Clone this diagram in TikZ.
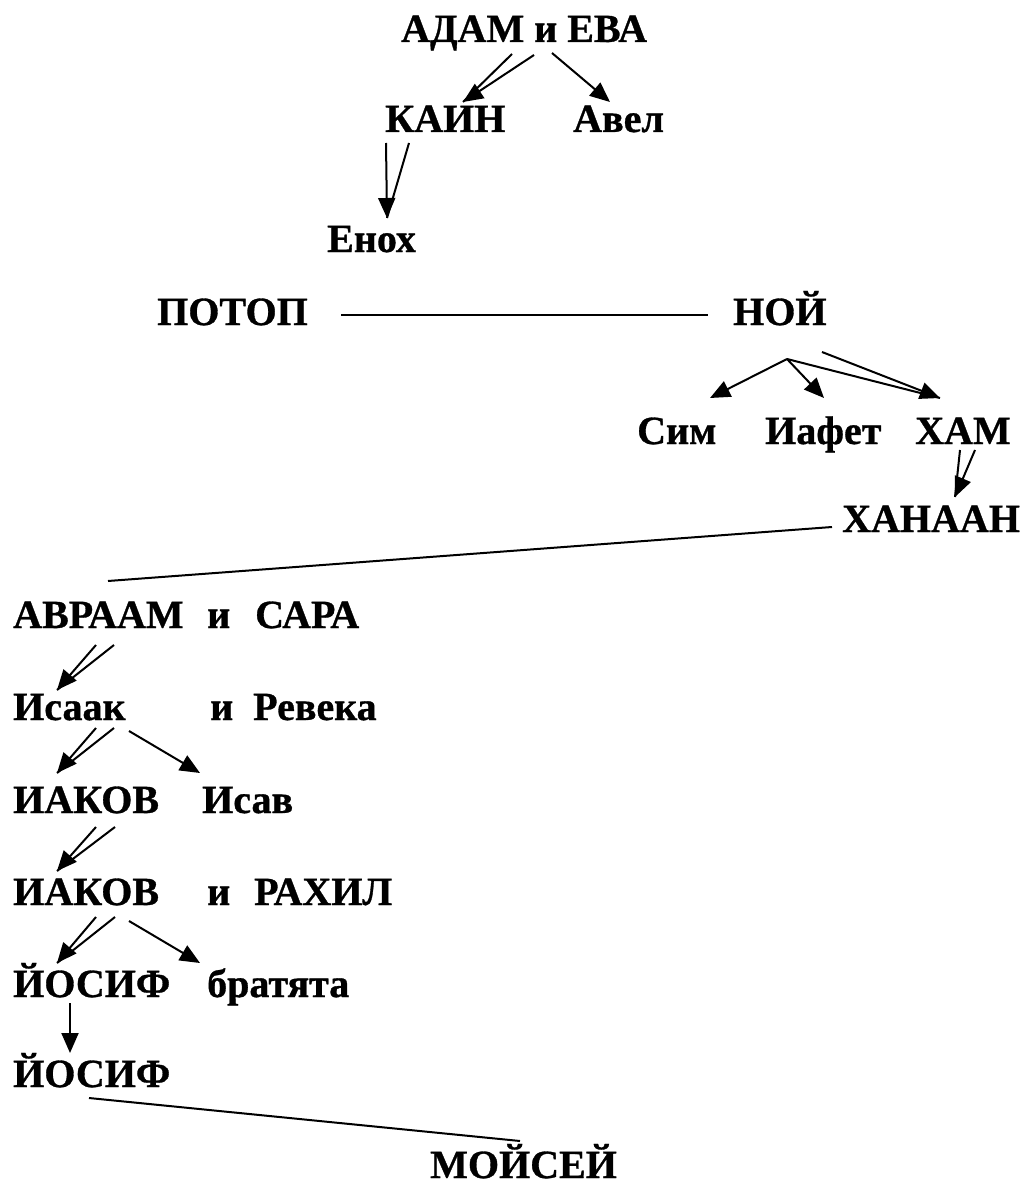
\documentclass[tikz,border=0pt]{standalone}
\usepackage{fontspec}
\setmainfont{Liberation Serif}[BoldFeatures={FakeBold=0.8}]
\usetikzlibrary{arrows.meta}
\begin{document}
\begin{tikzpicture}[x=1pt,y=-1pt,
  lbl/.style={inner sep=0pt,anchor=base west,font=\fontsize{40}{42}\selectfont\bfseries},
  conn/.style={line width=2pt},
  arr/.style={conn,-{Triangle[length=20pt,width=17pt]}}]
\useasboundingbox (0,0) rectangle (1035,1185);
% labels
\node[lbl] (adam) at (401,42) {АДАМ и ЕВА};
\node[lbl] (kain) at (385,132) {КАИН};
\node[lbl] (avel) at (573,132) {Авел};
\node[lbl] (enoh) at (327,252) {Енох};
\node[lbl] (potop) at (157,325) {ПОТОП};
\node[lbl] (noy) at (733,325) {НОЙ};
\node[lbl] (sim) at (637,444) {Сим};
\node[lbl] (iafet) at (765,444) {Иафет};
\node[lbl] (ham) at (915,444) {ХАМ};
\node[lbl] (hanaan) at (842,532) {ХАНААН};
\node[lbl] (avraam) at (13,628) {АВРААМ};
\node[lbl] (i1) at (207,628) {и};
\node[lbl] (sara) at (255,628) {САРА};
\node[lbl] (isaak) at (13,720) {Исаак};
\node[lbl] (i2) at (210,720) {и};
\node[lbl] (reveka) at (253,720) {Ревека};
\node[lbl] (iakov) at (13,813) {ИАКОВ};
\node[lbl] (isav) at (202,813) {Исав};
\node[lbl] (iakovb) at (13,905) {ИАКОВ};
\node[lbl] (i3) at (207,905) {и};
\node[lbl] (rahil) at (254,905) {РАХИЛ};
\node[lbl] (yosif) at (13,997) {ЙОСИФ};
\node[lbl] (bratyata) at (207,997) {братята};
\node[lbl] (yosifb) at (13,1087) {ЙОСИФ};
\node[lbl] (moysey) at (430,1178) {МОЙСЕЙ};
% connector end points
\coordinate (adamA) at (512,54);
\coordinate (adamB) at (534,55);
\coordinate (adamC) at (552,53);
\coordinate (kainT) at (463,102);
\coordinate (avelT) at (610,102);
\coordinate (kainA) at (386,143);
\coordinate (kainB) at (409,143);
\coordinate (enohT) at (387,218);
\coordinate (potopR) at (341,315);
\coordinate (noyL) at (708,315);
\coordinate (noyA) at (787,359);
\coordinate (noyB) at (822,352);
\coordinate (simT) at (710,398);
\coordinate (iafetT) at (824,398);
\coordinate (hamT) at (940,398);
\coordinate (hamA) at (960,450);
\coordinate (hamB) at (975,450);
\coordinate (hanaanT) at (955,497);
\coordinate (hanaanL) at (832,527);
\coordinate (avraamR) at (108,581);
\coordinate (avraamA) at (96,645);
\coordinate (avraamB) at (114,645);
\coordinate (isaakT) at (57,690);
\coordinate (isaakA) at (96,728);
\coordinate (isaakB) at (114,728);
\coordinate (isaakC) at (129,731);
\coordinate (iakovT) at (57,773);
\coordinate (isavT) at (200,773);
\coordinate (iakovA) at (96,827);
\coordinate (iakovB) at (115,827);
\coordinate (iakovbT) at (57,871);
\coordinate (iakovbA) at (96,917);
\coordinate (iakovbB) at (115,917);
\coordinate (iakovbC) at (129,921);
\coordinate (yosifT) at (57,963);
\coordinate (bratyataT) at (200,963);
\coordinate (yosifA) at (70,1003);
\coordinate (yosifbT) at (70,1053);
\coordinate (yosifbR) at (89,1098);
\coordinate (moyseyL) at (520,1141);
% connectors
\draw[conn] (adamA) -- (kainT);
\draw[arr] (adamB) -- (kainT);
\draw[arr] (adamC) -- (avelT);
\draw[conn] (kainB) -- (enohT);
\draw[arr] (kainA) -- (enohT);
\draw[conn] (potopR) -- (noyL);
\draw[arr] (noyA) -- (simT);
\draw[arr] (noyA) -- (iafetT);
\draw[conn] (noyA) -- (hamT);
\draw[arr] (noyB) -- (hamT);
\draw[conn] (hamA) -- (hanaanT);
\draw[arr] (hamB) -- (hanaanT);
\draw[conn] (hanaanL) -- (avraamR);
\draw[conn] (avraamB) -- (isaakT);
\draw[arr] (avraamA) -- (isaakT);
\draw[conn] (isaakB) -- (iakovT);
\draw[arr] (isaakA) -- (iakovT);
\draw[arr] (isaakC) -- (isavT);
\draw[conn] (iakovB) -- (iakovbT);
\draw[arr] (iakovA) -- (iakovbT);
\draw[conn] (iakovbB) -- (yosifT);
\draw[arr] (iakovbA) -- (yosifT);
\draw[arr] (iakovbC) -- (bratyataT);
\draw[arr] (yosifA) -- (yosifbT);
\draw[conn] (yosifbR) -- (moyseyL);
\end{tikzpicture}
\end{document}
